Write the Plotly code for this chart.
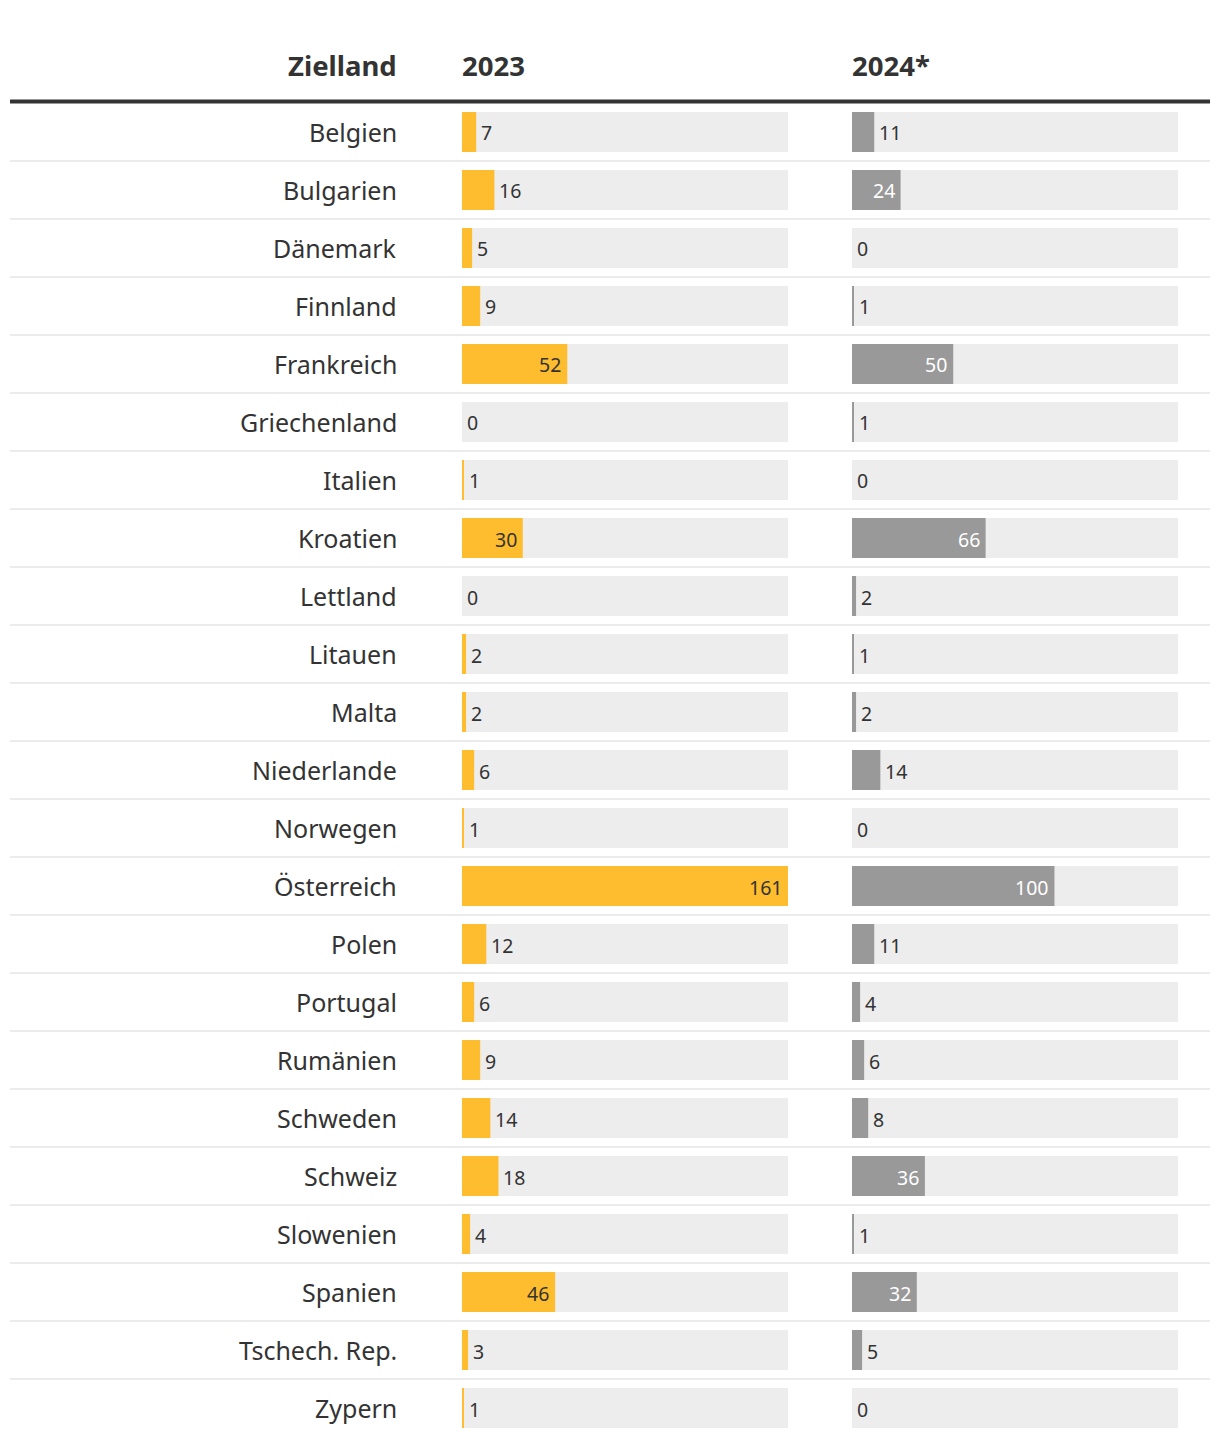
import plotly.graph_objects as go

countries = ["Belgien", "Bulgarien", "Dänemark", "Finnland", "Frankreich", "Griechenland",
             "Italien", "Kroatien", "Lettland", "Litauen", "Malta", "Niederlande", "Norwegen",
             "Österreich", "Polen", "Portugal", "Rumänien", "Schweden", "Schweiz", "Slowenien",
             "Spanien", "Tschech. Rep.", "Zypern"]
values_2023 = [7, 16, 5, 9, 52, 0, 1, 30, 0, 2, 2, 6, 1, 161, 12, 6, 9, 14, 18, 4, 46, 3, 1]
values_2024 = [11, 24, 0, 1, 50, 1, 0, 66, 2, 1, 2, 14, 0, 100, 11, 4, 6, 8, 36, 1, 32, 5, 0]
headers = ["Zielland", "2023", "2024*"]

W, H = 1220, 1446
FONT = "Noto Sans, Open Sans, sans-serif"
YELLOW = "#febd2e"
GRAY = "#999999"
BG = "#ededed"
TXT = "#333333"
MAXV = 161
n = len(countries)
ys = list(range(n))

def px(x):
    return x / W

def py(y):
    return 1 - y / H

fig = go.Figure()
bw = 40 / 58
for xa, vals, col in [("x", values_2023, YELLOW), ("x2", values_2024, GRAY)]:
    fig.add_trace(go.Bar(x=[MAXV] * n, y=ys, orientation="h", marker_color=BG, width=bw,
                         xaxis=xa, yaxis="y", hoverinfo="skip", marker_line_width=0))
    fig.add_trace(go.Bar(x=vals, y=ys, orientation="h", marker_color=col, width=bw,
                         xaxis=xa, yaxis="y", hoverinfo="skip", marker_line_width=0))

annotations = []
for xa, vals, inside_col in [("x", values_2023, TXT), ("x2", values_2024, "white")]:
    for i, v in enumerate(vals):
        inside = v >= 20
        annotations.append(dict(
            x=v, y=i, xref=xa, yref="y", text=str(v), showarrow=False,
            xanchor="right" if inside else "left", yanchor="middle",
            xshift=-4 if inside else 3, yshift=-1,
            font=dict(family=FONT, size=19.5, color=inside_col if inside else TXT)))

for i, c in enumerate(countries):
    annotations.append(dict(x=px(397), y=i, xref="paper", yref="y", text=c, showarrow=False,
                            xanchor="right", yanchor="middle", xshift=2,
                            font=dict(family=FONT, size=25, color=TXT)))

for txt, x, anc in [(headers[0], 397, "right"), (headers[1], 462, "left"), (headers[2], 852, "left")]:
    annotations.append(dict(x=px(x), y=py(66), xref="paper", yref="paper", text="<b>" + txt + "</b>",
                            showarrow=False, xanchor=anc, yanchor="middle",
                            xshift=2 if anc == "right" else -2,
                            font=dict(family=FONT, size=27.5, color=TXT)))

shapes = [dict(type="line", xref="paper", yref="paper", x0=px(10), x1=px(1210),
               y0=py(101.5), y1=py(101.5), line=dict(color=TXT, width=4))]
for i in range(n - 1):
    shapes.append(dict(type="line", xref="paper", yref="y", x0=px(10), x1=px(1210),
                       y0=i + 0.5, y1=i + 0.5, line=dict(color="#ebebeb", width=2), layer="below"))

fig.update_layout(
    width=W, height=H, margin=dict(l=0, r=0, t=0, b=0),
    paper_bgcolor="white", plot_bgcolor="white",
    barmode="overlay", showlegend=False,
    xaxis=dict(domain=[px(462), px(788)], range=[0, MAXV], visible=False, fixedrange=True),
    xaxis2=dict(domain=[px(852), px(1178)], range=[0, MAXV], visible=False, anchor="y", fixedrange=True),
    yaxis=dict(domain=[py(1437), py(103)], range=[n - 0.5, -0.5], visible=False, fixedrange=True),
    annotations=annotations, shapes=shapes,
)

fig.write_html("out.html", config={"displayModeBar": False},
               post_script="document.body.style.margin='0';document.body.style.overflow='hidden';")
